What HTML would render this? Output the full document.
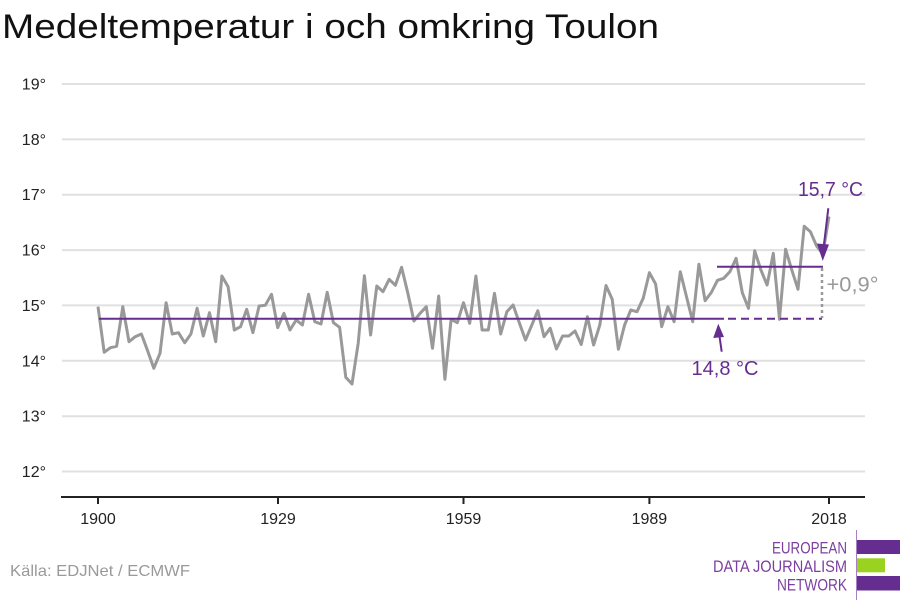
<!DOCTYPE html>
<html>
<head>
<meta charset="utf-8">
<style>
html,body{margin:0;padding:0;background:#fff;}
svg{display:block;}
text{font-family:"Liberation Sans",sans-serif;}
</style>
</head>
<body>
<svg width="900" height="600" viewBox="0 0 900 600" xmlns="http://www.w3.org/2000/svg">
<rect width="900" height="600" fill="#fff"/>
<text x="2" y="38" font-size="34" fill="#111" textLength="657" lengthAdjust="spacingAndGlyphs">Medeltemperatur i och omkring Toulon</text>

<g stroke="#e0e0e0" stroke-width="2">
<line x1="62" y1="84" x2="865" y2="84"/>
<line x1="62" y1="139.4" x2="865" y2="139.4"/>
<line x1="62" y1="194.7" x2="865" y2="194.7"/>
<line x1="62" y1="250.1" x2="865" y2="250.1"/>
<line x1="62" y1="305.4" x2="865" y2="305.4"/>
<line x1="62" y1="360.8" x2="865" y2="360.8"/>
<line x1="62" y1="416.2" x2="865" y2="416.2"/>
<line x1="62" y1="471.5" x2="865" y2="471.5"/>
</g>
<g font-size="16" fill="#222" text-anchor="end">
<text x="46" y="89.5">19°</text>
<text x="46" y="144.9">18°</text>
<text x="46" y="200.2">17°</text>
<text x="46" y="255.6">16°</text>
<text x="46" y="310.9">15°</text>
<text x="46" y="366.3">14°</text>
<text x="46" y="421.7">13°</text>
<text x="46" y="477">12°</text>
</g>

<line x1="61" y1="497" x2="865" y2="497" stroke="#222" stroke-width="2"/>
<g stroke="#222" stroke-width="2">
<line x1="98" y1="497" x2="98" y2="504"/>
<line x1="278" y1="497" x2="278" y2="504"/>
<line x1="463.5" y1="497" x2="463.5" y2="504"/>
<line x1="649.4" y1="497" x2="649.4" y2="504"/>
<line x1="829" y1="497" x2="829" y2="504"/>
</g>
<g font-size="16" fill="#222" text-anchor="middle">
<text x="98" y="524">1900</text>
<text x="278" y="524">1929</text>
<text x="463.5" y="524">1959</text>
<text x="649.4" y="524">1989</text>
<text x="829" y="524">2018</text>
</g>

<polyline fill="none" stroke="#999" stroke-width="3" stroke-linejoin="round" points="
98,306.7 104.2,352.3 110.4,347.7 116.6,346.3 122.8,306.7 129,341.7 135.2,336.7 141.4,334 147.6,350.7 153.8,368.3
160,353.3 166.1,302.7 172.3,334 178.5,332.7 184.7,342.7 190.9,334 197.1,308.3 203.3,336 209.5,312.7 215.7,341.7
221.9,276 228.1,286.7 234.3,330 240.5,326.7 246.7,309.3 252.9,332.7 259.1,306 265.3,305.3 271.5,294.3 277.7,327.7
283.9,313.3 290,330 296.2,320 302.4,325 308.6,294.3 314.8,321.7 321,324 327.2,292.3 333.4,322.7 339.6,327.3
345.8,377.3 352,384 358.2,343.3 364.4,275.7 370.6,335 376.8,286 383,291.7 389.2,279.3 395.4,285.3 401.6,267.3
407.8,293 413.9,321 420.1,313.3 426.3,306.7 432.5,348.3 438.7,296 444.9,379.3 451.1,319.3 457.3,322.7 463.5,302.7
469.7,323.3 475.9,276 482.1,330 488.3,330 494.5,293.3 500.7,334 506.9,311.7 513.1,305 519.3,322.7 525.5,340
531.7,325.3 537.8,310.7 544,336.7 550.2,328.3 556.4,349 562.6,336 568.8,336 575,331 581.2,344.5 587.4,316.7
593.6,345 599.8,325 606,285.5 612.2,299.3 618.4,349.3 624.6,325 630.8,310 637,311.7 643.2,298.3 649.4,272.7
655.6,284 661.7,326.7 667.9,306.7 674.1,321.7 680.3,271.7 686.5,296.7 692.7,321.7 698.9,264.3 705.1,300.7 711.3,292.5
717.5,280.3 723.7,278.3 729.9,271.7 736.1,258.3 742.3,292.7 748.5,308.3 754.7,250.7 760.9,270 767.1,285 773.3,253.3
779.5,319.3 785.6,249.3 791.8,270 798,289.3 804.2,226.3 810.4,231.7 816.6,246 822.8,254 829,216.5"/>

<line x1="99" y1="318.7" x2="724" y2="318.7" stroke="#662d91" stroke-width="2"/>
<line x1="728" y1="318.7" x2="822" y2="318.7" stroke="#662d91" stroke-width="2" stroke-dasharray="8,5"/>
<line x1="717" y1="266.7" x2="823" y2="266.7" stroke="#662d91" stroke-width="2"/>
<line x1="822" y1="268" x2="822" y2="318" stroke="#999" stroke-width="2.5" stroke-dasharray="3,3"/>

<line x1="828.3" y1="208.3" x2="823.8" y2="246" stroke="#662d91" stroke-width="2"/>
<polygon points="822.7,261 817,243.5 829,244.5" fill="#662d91"/>
<line x1="721.7" y1="351.7" x2="719.3" y2="335" stroke="#662d91" stroke-width="2"/>
<polygon points="718.3,323.8 713.2,338 724,337" fill="#662d91"/>

<text x="798" y="196" font-size="20.5" fill="#662d91" textLength="65" lengthAdjust="spacingAndGlyphs">15,7 °C</text>
<text x="691.5" y="375" font-size="20.5" fill="#662d91" textLength="67" lengthAdjust="spacingAndGlyphs">14,8 °C</text>
<text x="826.5" y="291.7" font-size="21" fill="#999" textLength="52" lengthAdjust="spacingAndGlyphs">+0,9°</text>

<text x="10" y="576" font-size="16" fill="#9a9a9a" textLength="180" lengthAdjust="spacingAndGlyphs">Källa: EDJNet / ECMWF</text>

<line x1="856.5" y1="530" x2="856.5" y2="600" stroke="#a77fc2" stroke-width="1"/>
<rect x="857" y="540" width="43" height="14" fill="#662d91"/>
<rect x="857" y="558.3" width="28" height="14" fill="#9bd21f"/>
<rect x="857" y="576" width="43" height="14.5" fill="#662d91"/>
<g font-size="17" fill="#7c3fa0" text-anchor="end">
<text x="847" y="553.5" textLength="75" lengthAdjust="spacingAndGlyphs">EUROPEAN</text>
<text x="847" y="572" textLength="134" lengthAdjust="spacingAndGlyphs">DATA JOURNALISM</text>
<text x="847" y="590.5" textLength="70" lengthAdjust="spacingAndGlyphs">NETWORK</text>
</g>
</svg>
</body>
</html>
